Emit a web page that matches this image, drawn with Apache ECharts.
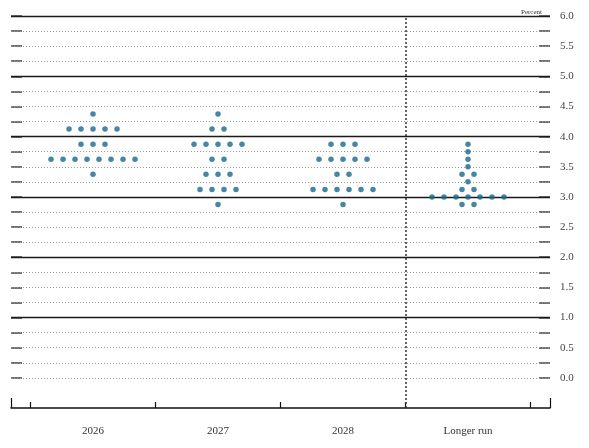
<!DOCTYPE html>
<html>
<head>
<meta charset="utf-8">
<script src="https://cdn.jsdelivr.net/npm/echarts@6/dist/echarts.min.js"></script>
<style>
  html, body { margin: 0; padding: 0; background: #fff; }
  #chart { width: 589px; height: 448px; }
</style>
</head>
<body>
<div id="chart"></div>
<script>
// columns of the plot
var years = ['2026', '2027', '2028', 'Longer run']
// [rate midpoint, number of participants]
var dots2026 = [[4.375, 1], [4.125, 5], [3.875, 3], [3.625, 8], [3.375, 1]]
var dots2027 = [[4.375, 1], [4.125, 2], [3.875, 5], [3.625, 2], [3.375, 3], [3.125, 4], [2.875, 1]]
var dots2028 = [[3.875, 3], [3.625, 5], [3.375, 2], [3.125, 6], [2.875, 1]]
var dotsLonger = [[3.875, 1], [3.75, 1], [3.625, 1], [3.5, 1], [3.375, 2], [3.25, 1], [3.125, 2], [3.0, 7], [2.875, 2]]
// y tick labels and lines
var yLabels = [0, 0.5, 1, 1.5, 2, 2.5, 3, 3.5, 4, 4.5, 5, 5.5, 6]
var yTicks = [0, 0.25, 0.5, 0.75, 1, 1.25, 1.5, 1.75, 2, 2.25, 2.5, 2.75, 3, 3.25, 3.5, 3.75, 4, 4.25, 4.5, 4.75, 5, 5.25, 5.5, 5.75, 6]
var solidLines = [1, 2, 3, 4, 5, 6]

var allDots = [dots2026, dots2027, dots2028, dotsLonger]
var step = 0.096 // horizontal gap between dots in one row
var points = []
allDots.forEach(function (rows, i) {
  rows.forEach(function (r) {
    var n = r[1]
    for (var k = 0; k < n; k++) {
      points.push([i + (k - (n - 1) / 2) * step, r[0]])
    }
  })
})

var lines = []
yTicks.forEach(function (v) {
  if (solidLines.indexOf(v) >= 0) {
    lines.push({ yAxis: v, lineStyle: { type: 'solid', color: '#1a1a1a', width: 1.3 } })
  } else {
    lines.push({ yAxis: v, lineStyle: { type: [1, 2], color: '#9a9a9a', width: 1 } })
  }
})
lines.push({ xAxis: 2.5, lineStyle: { type: [2, 2], color: '#333', width: 1.5 } })

var serif = '"Liberation Serif", "DejaVu Serif", serif'
var chart = echarts.init(document.getElementById('chart'))
chart.setOption({
  animation: false,
  title: {
    text: 'Percent',
    right: 42,
    top: 4,
    textStyle: { fontFamily: serif, fontSize: 7, fontWeight: 'normal', color: '#333' }
  },
  grid: { left: 11, right: 39, top: 16, bottom: 40 },
  xAxis: [{
    type: 'value',
    min: -0.656,
    max: 3.656,
    splitLine: { show: false },
    axisLine: { show: true, onZero: false, lineStyle: { color: '#111', width: 1.5 } },
    axisTick: { show: true, inside: true, length: 6, customValues: [-0.5, 0.5, 1.5, 2.5, 3.5], lineStyle: { color: '#111', width: 1.2 } },
    axisLabel: {
      customValues: [0, 1, 2, 3],
      margin: 18,
      fontFamily: serif,
      fontSize: 11,
      color: '#333',
      formatter: function (v) { return years[Math.round(v)] }
    }
  }, {
    type: 'value',
    min: -0.656,
    max: 3.656,
    position: 'bottom',
    splitLine: { show: false },
    axisLine: { show: false, onZero: false },
    axisTick: { show: true, inside: true, length: 10, customValues: [-0.656, 3.656], lineStyle: { color: '#111', width: 1.2 } },
    axisLabel: { show: false }
  }],
  yAxis: [{
    type: 'value',
    position: 'right',
    min: -0.5,
    max: 6,
    splitLine: { show: false },
    axisLine: { show: false, onZero: false },
    axisTick: { show: true, inside: true, length: 11, customValues: yTicks, lineStyle: { color: '#444', width: 1.5 } },
    axisLabel: {
      customValues: yLabels,
      margin: 10,
      fontFamily: serif,
      fontSize: 11,
      color: '#444',
      formatter: function (v) { return v.toFixed(1) }
    }
  }, {
    type: 'value',
    position: 'left',
    min: -0.5,
    max: 6,
    splitLine: { show: false },
    axisLine: { show: false, onZero: false },
    axisTick: { show: true, inside: true, length: 11, customValues: yTicks, lineStyle: { color: '#444', width: 1.5 } },
    axisLabel: { show: false }
  }],
  series: [{
    type: 'scatter',
    data: points,
    symbolSize: 5.5,
    itemStyle: { color: '#17688f' },
    z: 5,
    markLine: {
      silent: true,
      symbol: 'none',
      label: { show: false },
      data: lines
    }
  }]
})
</script>
</body>
</html>
